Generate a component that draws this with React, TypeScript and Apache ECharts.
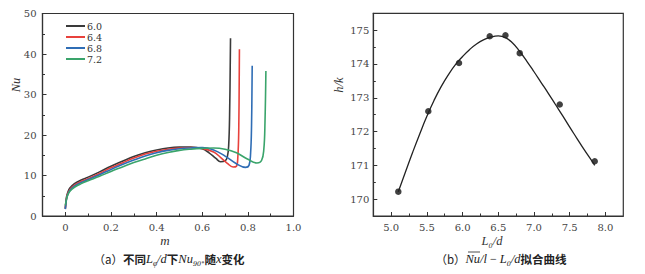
import React, { useEffect, useRef } from "react";
import * as echarts from "echarts";

// ---------- data ----------
const seriesNames = ["6.0", "6.4", "6.8", "7.2"];
const seriesColors = ["#3a3a3a", "#e8413c", "#2f6db5", "#3aa46b"];

const nu60: [number, number][] = [
  [0, 1.8], [0.005, 4.6], [0.01, 5.7], [0.02, 6.9], [0.04, 8.0], [0.07, 8.9], [0.1, 9.6],
  [0.15, 10.9], [0.2, 12.3], [0.25, 13.5], [0.3, 14.7], [0.35, 15.6], [0.4, 16.3],
  [0.45, 16.8], [0.5, 17.0], [0.55, 17.0], [0.6, 16.6], [0.63, 15.6], [0.66, 14.2],
  [0.68, 13.4], [0.7, 13.6], [0.71, 14.6], [0.716, 17.5], [0.72, 25], [0.724, 43.9],
];
const nu64: [number, number][] = [
  [0, 1.9], [0.005, 4.3], [0.01, 5.4], [0.02, 6.5], [0.04, 7.6], [0.07, 8.5], [0.1, 9.2],
  [0.15, 10.5], [0.2, 11.9], [0.25, 13.1], [0.3, 14.3], [0.35, 15.3], [0.4, 16.0],
  [0.45, 16.5], [0.5, 16.8], [0.55, 16.9], [0.6, 16.7], [0.65, 15.8], [0.68, 14.5],
  [0.71, 13.0], [0.735, 12.1], [0.75, 12.3], [0.756, 14.5], [0.76, 21], [0.763, 41.2],
];
const nu68: [number, number][] = [
  [0, 1.7], [0.005, 4.1], [0.01, 5.2], [0.02, 6.3], [0.04, 7.4], [0.07, 8.3], [0.1, 9.0],
  [0.15, 10.2], [0.2, 11.5], [0.25, 12.7], [0.3, 13.8], [0.35, 14.8], [0.4, 15.6],
  [0.45, 16.2], [0.5, 16.6], [0.55, 16.8], [0.6, 16.9], [0.65, 16.3], [0.7, 14.8],
  [0.75, 12.9], [0.79, 12.0], [0.805, 12.5], [0.812, 15.5], [0.816, 22], [0.819, 37.1],
];
const nu72: [number, number][] = [
  [0, 2.6], [0.005, 4.1], [0.01, 5.1], [0.02, 6.1], [0.04, 7.1], [0.07, 8.0], [0.1, 8.7],
  [0.15, 9.8], [0.2, 11.0], [0.25, 12.1], [0.3, 13.2], [0.35, 14.1], [0.4, 15.0],
  [0.45, 15.7], [0.5, 16.2], [0.55, 16.5], [0.6, 16.7], [0.65, 16.8], [0.7, 16.5],
  [0.75, 15.6], [0.8, 14.0], [0.84, 13.1], [0.86, 13.7], [0.87, 16.5], [0.875, 23], [0.879, 35.8],
];
const nuSeries = [nu60, nu64, nu68, nu72];

const ratioX = [5.1, 5.52, 5.95, 6.38, 6.6, 6.8, 7.36, 7.85];
const hkY = [170.22, 172.6, 174.03, 174.82, 174.85, 174.32, 172.8, 171.12];

const fitX = [5.1, 5.2, 5.3, 5.4, 5.5, 5.6, 5.7, 5.8, 5.9, 6.0, 6.1, 6.2, 6.3, 6.4, 6.5, 6.6, 6.7, 6.8, 6.9, 7.0, 7.1, 7.2, 7.3, 7.4, 7.5, 7.6, 7.7, 7.8, 7.85];
const fitY = [170.22, 170.8, 171.38, 171.93, 172.45, 172.92, 173.33, 173.68, 173.98, 174.22, 174.43, 174.6, 174.72, 174.8, 174.83, 174.78, 174.62, 174.37, 174.08, 173.77, 173.45, 173.13, 172.8, 172.47, 172.13, 171.8, 171.47, 171.16, 171.0];

const leftXMajor = [0, 0.2, 0.4, 0.6, 0.8, 1.0];
const leftXMinor = [0.1, 0.3, 0.5, 0.7, 0.9];
const leftYMajor = [0, 10, 20, 30, 40, 50];
const leftYMinor = [5, 15, 25, 35, 45];
const rightXMajor = [5.0, 5.5, 6.0, 6.5, 7.0, 7.5, 8.0];
const rightXMinor = [5.25, 5.75, 6.25, 6.75, 7.25, 7.75];
const rightYMajor = [170, 171, 172, 173, 174, 175];
const rightYMinor = [170.5, 171.5, 172.5, 173.5, 174.5];

// ---------- styles ----------
const SERIF = "Liberation Serif";
const NUM = "DejaVu Serif";
const CJK = "Noto Sans CJK SC";
const AX = "#333";

const gridL = { left: 42.5, top: 13.5, width: 251, height: 202.5 };
const gridR = { left: 373.3, top: 13.3, width: 250, height: 202.7 };

function mainAxis(gridIndex: number, min: number, max: number, major: number[], fmt: (v: number) => string, margin: number) {
  return {
    type: "value",
    gridIndex,
    min,
    max,
    axisLine: { show: true, onZero: false, lineStyle: { color: AX, width: 1.2 } },
    axisTick: { show: true, inside: true, length: 4, customValues: major, lineStyle: { color: AX, width: 1 } },
    axisLabel: { show: true, customValues: major, formatter: fmt, color: "#444", fontFamily: NUM, fontSize: 10, margin },
    splitLine: { show: false },
  };
}
function minorAxis(gridIndex: number, min: number, max: number, minor: number[]) {
  return {
    type: "value",
    gridIndex,
    min,
    max,
    axisLine: { show: false, onZero: false },
    axisTick: { show: true, inside: true, length: 2.5, customValues: minor, lineStyle: { color: AX, width: 1 } },
    axisLabel: { show: false },
    splitLine: { show: false },
  };
}

const fmtLeftX = (v: number) => (Math.abs(v) < 1e-9 ? "0" : v.toFixed(1));
const fmtInt = (v: number) => String(Math.round(v));
const fmt1 = (v: number) => v.toFixed(1);

export default function App() {
  const ref = useRef<HTMLDivElement>(null);
  useEffect(() => {
    if (!ref.current) return;
    const chart = echarts.init(ref.current, undefined, { renderer: "svg" });
    const subStyle = { fontFamily: NUM, fontStyle: "italic", fontSize: 6.5, verticalAlign: "bottom", lineHeight: 14, padding: [0, 0, -1, 0] };
    const subL = { fontFamily: SERIF, fontStyle: "italic", fontSize: 7.5, verticalAlign: "bottom", lineHeight: 14, padding: [0, 0, -1, 0] };
    const itStyle = { fontFamily: SERIF, fontStyle: "italic", fontSize: 12.5, lineHeight: 14 };
    const boldStyle = { fontFamily: CJK, fontSize: 11.5, lineHeight: 14, fontWeight: "bold" };
    const normStyle = { fontFamily: CJK, fontSize: 11.5, lineHeight: 14 };
    const option: any = {
      animation: false,
      grid: [
        { ...gridL, show: true, borderColor: AX, borderWidth: 1.2, backgroundColor: "transparent" },
        { ...gridL, show: false },
        { ...gridR, show: true, borderColor: AX, borderWidth: 1.2, backgroundColor: "transparent" },
        { ...gridR, show: false },
      ],
      xAxis: [
        mainAxis(0, -0.1, 1.0, leftXMajor, fmtLeftX, 6),
        minorAxis(1, -0.1, 1.0, leftXMinor),
        mainAxis(2, 4.75, 8.25, rightXMajor, fmt1, 6),
        minorAxis(3, 4.75, 8.25, rightXMinor),
      ],
      yAxis: [
        mainAxis(0, 0, 50, leftYMajor, fmtInt, 6),
        minorAxis(1, 0, 50, leftYMinor),
        mainAxis(2, 169.5, 175.5, rightYMajor, fmtInt, 4),
        minorAxis(3, 169.5, 175.5, rightYMinor),
      ],
      legend: {
        orient: "vertical",
        left: 60,
        top: 16,
        itemWidth: 19,
        itemHeight: 9,
        itemGap: 1.0,
        data: seriesNames,
        itemStyle: { opacity: 0 },
        textStyle: { fontFamily: NUM, fontSize: 9.5, color: "#333", lineHeight: 9, padding: [0, 0, 0, -3] },
      },
      series: [
        ...nuSeries.map((d, i) => ({
          name: seriesNames[i],
          type: "line",
          xAxisIndex: 0,
          yAxisIndex: 0,
          data: d,
          smooth: 0.4,
          showSymbol: false,
          symbol: "none",
          lineStyle: { color: seriesColors[i], width: 1.6 },
          itemStyle: { color: seriesColors[i] },
        })),
        {
          name: "fit",
          type: "line",
          xAxisIndex: 2,
          yAxisIndex: 2,
          data: fitX.map((x, i) => [x, fitY[i]]),
          smooth: 0.5,
          symbol: "none",
          lineStyle: { color: "#222", width: 1.3 },
        },
        {
          name: "points",
          type: "scatter",
          xAxisIndex: 2,
          yAxisIndex: 2,
          data: ratioX.map((x, i) => [x, hkY[i]]),
          symbolSize: 6.5,
          itemStyle: { color: "#111" },
        },
      ],
      graphic: [
        { type: "text", x: 16, y: 85, rotation: Math.PI / 2, style: { text: "Nu", fontFamily: SERIF, fontStyle: "italic", fontSize: 12.5, fill: "#333", align: "center", verticalAlign: "middle" } },
        { type: "text", x: 165, y: 240, style: { text: "m", fontFamily: SERIF, fontStyle: "italic", fontSize: 13, fill: "#333", align: "center", verticalAlign: "middle" } },
        { type: "text", x: 339, y: 85, rotation: Math.PI / 2, style: { text: "h/k", fontFamily: SERIF, fontStyle: "italic", fontSize: 12.5, fill: "#333", align: "center", verticalAlign: "middle" } },
        {
          type: "text", x: 492, y: 241,
          style: {
            text: "{i|L}{s|0}{i|/d}", align: "center", verticalAlign: "middle", fill: "#333",
            rich: { i: itStyle, s: subStyle },
          },
        },
        {
          type: "text", x: 169, y: 259,
          style: {
            text: "{n|（a）}{b|不同}{i|L}{l|φ}{i|/d}{b|下}{i|Nu}{s|90°}{b|随}{i|x}{b|变化}",
            align: "center", verticalAlign: "middle", fill: "#222",
            rich: { n: normStyle, b: boldStyle, i: itStyle, s: subStyle, l: subL },
          },
        },
        {
          type: "text", x: 501, y: 259,
          style: {
            text: "{n|（b）}{i|Nu/l}{m| − }{i|L}{s|0}{i|/d}{b|拟合曲线}",
            align: "center", verticalAlign: "middle", fill: "#222",
            rich: { n: normStyle, b: boldStyle, i: itStyle, s: subStyle, m: { fontFamily: SERIF, fontSize: 12, lineHeight: 14 } },
          },
        },
        { type: "line", shape: { x1: 468, y1: 252, x2: 480, y2: 252 }, style: { stroke: "#222", lineWidth: 0.8 } },
      ],
    };
    chart.setOption(option);
    return () => chart.dispose();
  }, []);
  return <div ref={ref} style={{ position: "fixed", left: 0, top: 0, width: 645, height: 274, background: "#fff" }} />;
}
